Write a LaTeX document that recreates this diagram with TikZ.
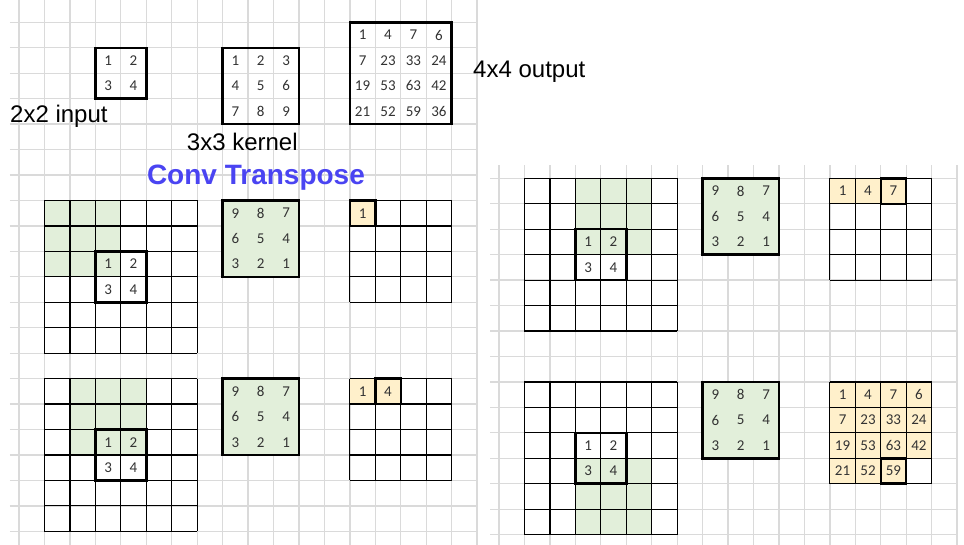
\documentclass[tikz,border=0pt]{standalone}
\usepackage{fontspec}
\setmainfont{Liberation Sans}
\newfontfamily\cellfont{Carlito}
\definecolor{gridgray}{HTML}{DADADA}
\definecolor{kerngreen}{HTML}{E2EFDA}
\definecolor{outcream}{HTML}{FFF0CB}
\definecolor{convblue}{HTML}{4A44F2}
\definecolor{numgray}{HTML}{333333}

\begin{document}
\begin{tikzpicture}[x=25.45pt, y=-25.45pt,
  bgline/.style={draw=gridgray, line width=1.3pt},
  cellline/.style={draw=black, line width=1.2pt},
  thickbox/.style={draw=black, line width=2.5pt},
  num/.style={font=\cellfont\fontsize{15}{15}\selectfont, text=numgray, inner sep=0pt},
  lbl/.style={font=\fontsize{24}{24}\selectfont, inner sep=0pt, anchor=base west},
  ttl/.style={font=\bfseries\fontsize{28}{28}\selectfont, text=convblue, inner sep=0pt, anchor=base}
]
\path[use as bounding box, fill=white] (-0.7466,-0.8762) rectangle (37.132,20.538);

% paper grid, left sheet
\foreach \j in {0,...,20} \draw[bgline] (-0.354,\j) -- (18,\j);
\foreach \i in {0,...,18} \draw[bgline] (\i,-0.876) -- (\i,20.538);

% top row: input, kernel, output
\draw[thickbox] (3,1) rectangle (5,3);
\draw[thickbox] (8,1) rectangle (11,4);
\draw[thickbox] (13,0) rectangle (17,4);
\foreach \v [count=\n from 0] in {1,2,3,4}
  \node[num] (in\n) at ({3.5+mod(\n,2)},{1.5+floor(\n/2)}) {\v};
\foreach \v [count=\n from 0] in {1,2,3,4,5,6,7,8,9}
  \node[num] (ker\n) at ({8.5+mod(\n,3)},{1.5+floor(\n/3)}) {\v};
\foreach \v [count=\n from 0] in {1,4,7,6,7,23,33,24,19,53,63,42,21,52,59,36}
  \node[num] (out\n) at ({13.5+mod(\n,4)},{0.5+floor(\n/4)}) {\v};
\node[lbl] (inlbl) at (-0.354,3.93) {2x2 input};
\node[lbl] (kerlbl) at (6.59,5.045) {3x3 kernel};
\node[lbl] (outlbl) at (17.84,2.16) {4x4 output};
\node[ttl] (title) at (9.31,6.39) {Conv Transpose};

% steps 1 and 2
\fill[kerngreen] (1,7) rectangle (4,10);
\fill[kerngreen] (2,14) rectangle (5,17);
\fill[outcream] (13,7) rectangle (14,8);
\fill[outcream] (13,14) rectangle (15,15);
\foreach \oy/\s in {7/a,14/b} {
  \foreach \k in {0,...,6} {
    \draw[cellline] (1+\k,\oy) -- (1+\k,\oy+6);
    \draw[cellline] (1,\oy+\k) -- (7,\oy+\k);
  }
  \foreach \k in {0,...,4} {
    \draw[cellline] (13+\k,\oy) -- (13+\k,\oy+4);
    \draw[cellline] (13,\oy+\k) -- (17,\oy+\k);
  }
  \draw[thickbox] (3,\oy+2) rectangle (5,\oy+4);
  \draw[thickbox, fill=kerngreen] (8,\oy) rectangle (11,\oy+3);
  \foreach \v [count=\n from 0] in {1,2,3,4}
    \node[num] (\s-in\n) at ({3.5+mod(\n,2)},{\oy+2.5+floor(\n/2)}) {\v};
  \foreach \v [count=\n from 0] in {9,8,7,6,5,4,3,2,1}
    \node[num] (\s-ker\n) at ({8.5+mod(\n,3)},{\oy+0.5+floor(\n/3)}) {\v};
}
\draw[thickbox] (13,7) rectangle (14,8);
\draw[thickbox] (14,14) rectangle (15,15);
\node[num] (a-out0) at (13.5,7.5) {1};
\node[num] (b-out0) at (13.5,14.5) {1};
\node[num] (b-out1) at (14.5,14.5) {4};

% right sheet: steps 3 and last
\begin{scope}[shift={(18.861,6.130)}]
\foreach \j in {0,...,14} \draw[bgline] (-0.354,\j) -- (18,\j);
\foreach \i in {0,...,18} \draw[bgline] (\i,-0.52) -- (\i,14.41);
\fill[kerngreen] (3,0) rectangle (6,3);
\fill[kerngreen] (3,11) rectangle (6,14);
\fill[outcream] (13,0) rectangle (16,1);
\fill[outcream] (13,8) rectangle (17,11);
\fill[outcream] (13,11) rectangle (16,12);
\foreach \oy/\s in {0/c,8/d} {
  \foreach \k in {0,...,6} {
    \draw[cellline] (1+\k,\oy) -- (1+\k,\oy+6);
    \draw[cellline] (1,\oy+\k) -- (7,\oy+\k);
  }
  \foreach \k in {0,...,4} {
    \draw[cellline] (13+\k,\oy) -- (13+\k,\oy+4);
    \draw[cellline] (13,\oy+\k) -- (17,\oy+\k);
  }
  \draw[thickbox] (3,\oy+2) rectangle (5,\oy+4);
  \draw[thickbox, fill=kerngreen] (8,\oy) rectangle (11,\oy+3);
  \foreach \v [count=\n from 0] in {1,2,3,4}
    \node[num] (\s-in\n) at ({3.5+mod(\n,2)},{\oy+2.5+floor(\n/2)}) {\v};
  \foreach \v [count=\n from 0] in {9,8,7,6,5,4,3,2,1}
    \node[num] (\s-ker\n) at ({8.5+mod(\n,3)},{\oy+0.5+floor(\n/3)}) {\v};
}
\draw[thickbox] (15,0) rectangle (16,1);
\draw[thickbox] (15,11) rectangle (16,12);
\foreach \v [count=\n from 0] in {1,4,7}
  \node[num] (c-out\n) at ({13.5+\n},0.5) {\v};
\foreach \v [count=\n from 0] in {1,4,7,6,7,23,33,24,19,53,63,42,21,52,59}
  \node[num] (d-out\n) at ({13.5+mod(\n,4)},{8.5+floor(\n/4)}) {\v};
\end{scope}
\end{tikzpicture}
\end{document}
